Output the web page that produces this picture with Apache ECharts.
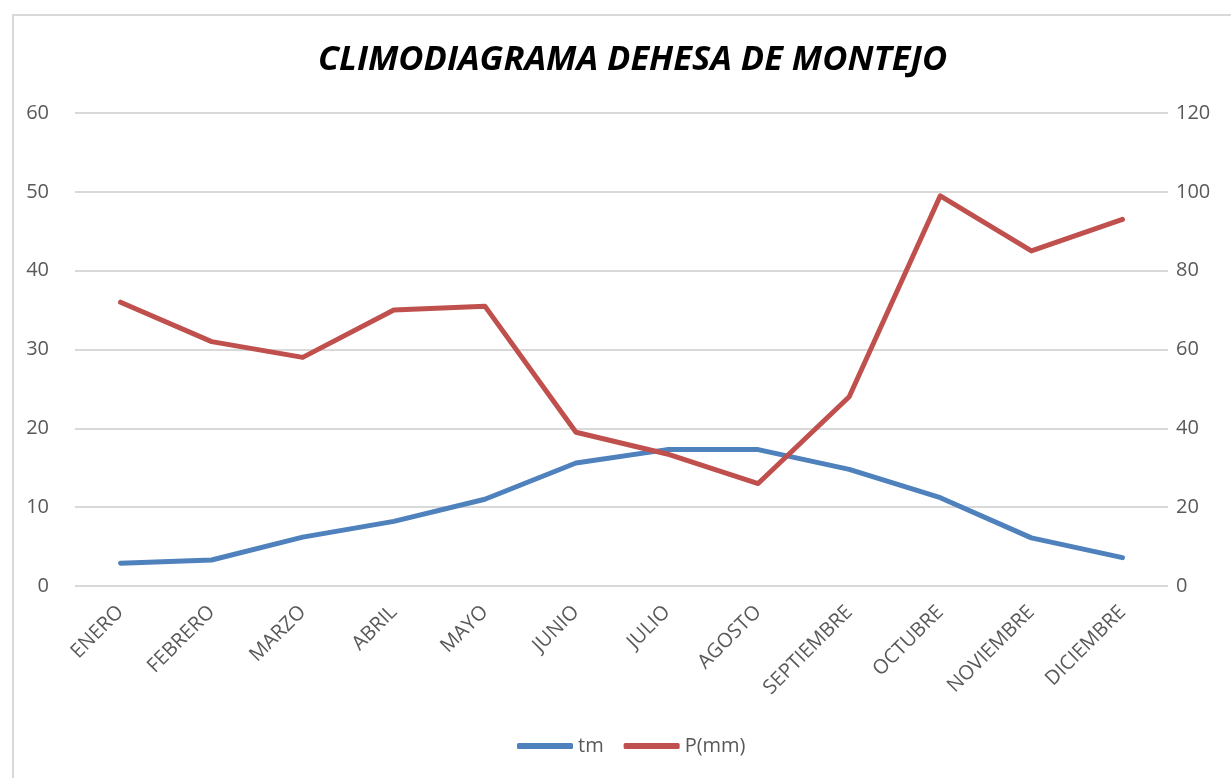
<!DOCTYPE html>
<html>
<head>
<meta charset="utf-8">
<script src="https://cdn.jsdelivr.net/npm/echarts@6/dist/echarts.min.js"></script>
<style>
  html, body { margin: 0; padding: 0; background: #fff; }
  .frame {
    position: absolute; left: 12px; top: 14px; width: 1230px; height: 775px;
    border: 2px solid #d9d9d9; box-sizing: border-box;
  }
  #chart { position: absolute; left: 0; top: 0; width: 1231px; height: 778px; }
</style>
</head>
<body>
<div class="frame"></div>
<div id="chart"></div>
<script>
// meses
const months = ['ENERO', 'FEBRERO', 'MARZO', 'ABRIL', 'MAYO', 'JUNIO',
  'JULIO', 'AGOSTO', 'SEPTIEMBRE', 'OCTUBRE', 'NOVIEMBRE', 'DICIEMBRE']
// temperatura media (eje izq)
const tm = [2.9, 3.3, 6.2, 8.2, 11.0, 15.6, 17.3, 17.3, 14.8, 11.2, 6.1, 3.6]
// precipitacion (eje dcho)
const pmm = [72, 62, 58, 70, 71, 39, 33.5, 26, 48, 99, 85, 93]

const axisText = { color: '#595959', fontSize: 20, fontFamily: 'Open Sans' }

const chart = echarts.init(document.getElementById('chart'))
chart.setOption({
  animation: false,
  title: {
    text: 'CLIMODIAGRAMA DEHESA DE MONTEJO',
    left: 313,
    top: 38,
    textStyle: {
      fontFamily: 'Open Sans',
      fontStyle: 'italic',
      fontWeight: 'bold',
      fontSize: 34.5,
      color: '#000'
    }
  },
  legend: {
    bottom: 17,
    left: 512,
    itemWidth: 56,
    itemHeight: 6,
    itemGap: 20,
    icon: 'roundRect',
    textStyle: { color: '#595959', fontSize: 20, fontFamily: 'Open Sans' },
    data: ['tm', 'P(mm)']
  },
  grid: { left: 75, right: 63, top: 113, bottom: 192 },
  xAxis: {
    type: 'category',
    data: months,
    boundaryGap: true,
    axisLine: { show: false },
    axisTick: { show: false },
    axisLabel: { ...axisText, rotate: 45, margin: 23, interval: 0 }
  },
  yAxis: [
    {
      type: 'value', min: 0, max: 60, interval: 10,
      axisLabel: { ...axisText, margin: 26 },
      splitLine: { lineStyle: { color: '#d9d9d9', width: 2 } }
    },
    {
      type: 'value', min: 0, max: 120, interval: 20,
      axisLabel: { ...axisText, margin: 8 },
      splitLine: { show: false }
    }
  ],
  series: [
    {
      name: 'tm', type: 'line', data: tm, yAxisIndex: 0,
      symbol: 'none', color: '#4F81BD',
      lineStyle: { width: 5, cap: 'round', join: 'round' }
    },
    {
      name: 'P(mm)', type: 'line', data: pmm, yAxisIndex: 1,
      symbol: 'none', color: '#C0504D',
      lineStyle: { width: 5, cap: 'round', join: 'round' }
    }
  ]
})
</script>
</body>
</html>
